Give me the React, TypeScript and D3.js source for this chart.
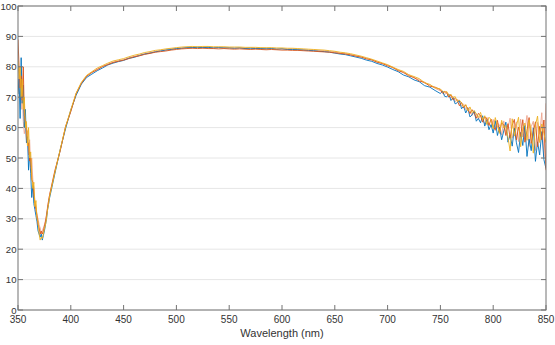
import React from 'react'
import * as d3 from 'd3'

// sampling grid (nm): 1 nm in the UV edge, 5 nm across the plateau, 2 nm in the noisy NIR tail
const wavelengths = [
  350, 351, 352, 353, 354, 355, 356, 357, 358, 359, 360, 361, 362, 363, 364, 365,
  366, 367, 368, 369, 370, 371, 372, 373, 374, 375, 376, 377, 378, 379, 380,
  385, 390, 395, 400, 405, 410, 415, 420, 425, 430, 435, 440, 445, 450, 455, 460, 465, 470, 475, 480,
  485, 490, 495, 500, 505, 510, 515, 520, 525, 530, 535, 540, 545, 550, 555, 560, 565, 570, 575, 580,
  585, 590, 595, 600, 605, 610, 615, 620, 625, 630, 635, 640, 645, 650, 655, 660, 665, 670, 675, 680,
  685, 690, 695, 700, 705, 710, 715, 720, 725, 730, 735, 740, 745,
  750, 752, 754, 756, 758, 760, 762, 764, 766, 768, 770, 772, 774, 776, 778, 780,
  782, 784, 786, 788, 790, 792, 794, 796, 798, 800, 802, 804, 806, 808, 810, 812,
  814, 816, 818, 820, 822, 824, 826, 828, 830, 832, 834, 836, 838, 840, 842, 844,
  846, 848, 850,
]

const blueValues = [
  71, 76, 63, 83, 68, 74, 60, 66, 55, 57, 46, 52, 45, 37, 41, 35,
  33, 31, 29, 26, 25, 24, 25, 23, 24.5, 26, 28, 30, 33, 35, 37,
  45.0, 52.8, 59.6, 65.8, 70.6, 74.3, 76.5, 77.6, 78.7, 79.6, 80.6, 81.2, 81.7, 82.1, 82.8, 83.1, 83.7, 84.2, 84.5, 84.9,
  85.2, 85.5, 85.7, 86.0, 86.1, 86.3, 86.3, 86.4, 86.3, 86.4, 86.2, 86.3, 86.2, 86.2, 86.1, 86.2, 86.0, 86.1, 86.0, 86.0,
  85.9, 86.0, 85.8, 85.9, 85.7, 85.7, 85.6, 85.5, 85.4, 85.3, 85.1, 85.0, 84.8, 84.5, 84.2, 84.0, 83.6, 83.2, 82.8, 82.2,
  81.8, 81.1, 80.6, 79.9, 79.1, 78.4, 77.3, 76.7, 75.7, 75.1, 73.8, 73.3, 72.2,
  71.2, 72.0, 70.3, 70.1, 71.0, 68.9, 69.8, 67.8, 68.2, 68.9, 66.2, 67.0, 64.8, 66.4, 63.5, 64.2,
  65.5, 62.1, 63.0, 61.6, 63.9, 60.5, 62.6, 59.3, 61.0, 58.2, 62.3, 57.4, 60.1, 56.0, 58.9, 61.8,
  55.2, 57.6, 53.9, 59.8, 55.0, 51.8, 58.4, 54.1, 60.7, 50.5, 56.2, 52.4, 59.9, 48.9, 55.3, 51.0,
  58.7, 49.5, 46.5,
]

const redValues = [
  89, 80, 73, 77, 69, 80, 64, 62, 60, 54, 55, 49, 50, 43, 42, 38,
  35, 33, 31, 28, 27, 25, 26, 25, 26, 27.5, 29, 31, 33.5, 36, 38,
  46.0, 52.4, 60.3, 65.3, 71.2, 74.6, 76.9, 78.2, 79.0, 80.1, 80.7, 81.4, 81.8, 82.2, 82.7, 83.3, 83.6, 84.1, 84.4, 84.8,
  85.0, 85.2, 85.5, 85.7, 85.9, 86.0, 86.1, 86.0, 86.1, 86.0, 86.0, 85.9, 86.0, 85.9, 85.8, 85.9, 85.8, 85.7, 85.8, 85.7,
  85.6, 85.7, 85.6, 85.5, 85.5, 85.4, 85.4, 85.3, 85.2, 85.1, 85.0, 84.9, 84.8, 84.6, 84.4, 84.2, 83.9, 83.5, 83.2, 82.6,
  82.3, 81.5, 81.1, 80.3, 79.8, 78.7, 78.2, 77.0, 76.5, 75.3, 74.9, 73.6, 73.3,
  72.5, 71.3, 71.9, 71.4, 70.0, 70.8, 69.1, 69.6, 68.9, 67.2, 68.3, 66.5, 67.4, 66.1, 64.6, 65.9,
  64.8, 63.1, 64.7, 63.9, 61.8, 63.6, 62.9, 60.7, 62.8, 60.2, 59.3, 62.4, 58.5, 61.6, 60.9, 57.4,
  61.3, 56.6, 60.8, 62.7, 55.9, 60.2, 57.1, 62.6, 55.2, 59.0, 63.3, 54.8, 58.6, 61.9, 53.7, 60.4,
  56.0, 62.5, 46.0,
]

const salmonValues = [
  76, 72, 70, 66, 74, 62, 58, 60, 56, 59, 51, 56, 47, 50, 43, 40,
  36, 34, 31, 30, 28, 27, 25, 26, 27, 28, 29.5, 31.5, 34, 36, 38,
  45.5, 52.6, 60.1, 65.4, 71.0, 74.4, 76.9, 78.0, 79.3, 80.0, 80.9, 81.5, 82.0, 82.3, 83.0, 83.4, 83.9, 84.3, 84.7, 85.0,
  85.4, 85.6, 85.9, 86.1, 86.2, 86.4, 86.3, 86.5, 86.4, 86.5, 86.3, 86.4, 86.3, 86.3, 86.2, 86.3, 86.1, 86.2, 86.1, 86.1,
  86.0, 86.1, 85.9, 86.0, 85.8, 85.9, 85.7, 85.7, 85.5, 85.5, 85.3, 85.3, 85.0, 84.9, 84.5, 84.4, 84.0, 83.7, 83.2, 82.8,
  82.2, 81.7, 81.0, 80.6, 79.6, 79.0, 78.0, 77.4, 76.3, 75.8, 74.6, 74.1, 72.9,
  72.1, 71.9, 70.8, 71.6, 70.9, 69.6, 70.3, 68.5, 69.4, 68.6, 67.0, 67.8, 65.9, 66.7, 65.6, 64.0,
  65.2, 64.6, 62.7, 64.1, 62.4, 61.2, 63.4, 61.1, 60.3, 62.7, 59.0, 61.5, 60.8, 57.6, 62.2, 58.4,
  60.0, 63.1, 56.5, 59.6, 61.9, 55.4, 62.8, 56.9, 59.1, 64.0, 53.8, 60.3, 62.1, 52.5, 61.7, 57.8,
  64.9, 50.4, 68.0,
]

const yellowValues = [
  82, 76, 80, 70, 76, 66, 70, 60, 62, 54, 60, 50, 52, 44, 40, 42,
  34, 36, 30, 29, 25, 23, 24, 23.5, 25, 26.5, 28, 30, 33, 35, 37.5,
  45.3, 52.9, 60.2, 65.9, 71.3, 74.9, 77.2, 78.4, 79.6, 80.4, 81.2, 81.9, 82.3, 82.7, 83.3, 83.8, 84.2, 84.7, 85.0, 85.4,
  85.6, 85.9, 86.1, 86.3, 86.5, 86.6, 86.7, 86.6, 86.7, 86.7, 86.6, 86.6, 86.6, 86.5, 86.5, 86.5, 86.4, 86.4, 86.4, 86.3,
  86.3, 86.3, 86.2, 86.2, 86.1, 86.1, 86.0, 85.9, 85.8, 85.7, 85.6, 85.5, 85.3, 85.1, 84.8, 84.6, 84.3, 83.9, 83.5, 83.0,
  82.5, 81.9, 81.3, 80.7, 79.9, 79.1, 78.5, 77.4, 76.8, 76.1, 74.8, 74.2, 73.1,
  72.7, 72.0, 71.6, 71.9, 70.6, 70.9, 69.8, 70.2, 68.6, 69.0, 68.2, 66.8, 67.6, 65.5, 66.8, 64.9,
  65.6, 64.5, 63.3, 65.0, 62.6, 63.9, 61.0, 63.4, 62.7, 59.6, 63.3, 60.6, 58.1, 62.4, 59.9, 60.7,
  56.8, 52.3, 62.9, 57.2, 60.6, 63.4, 53.7, 59.8, 61.5, 55.8, 62.5, 58.9, 51.6, 60.7, 63.8, 55.1,
  61.2, 58.0, 55.0,
]

const xTicks = [350, 400, 450, 500, 550, 600, 650, 700, 750, 800, 850]
const yTicks = [0, 10, 20, 30, 40, 50, 60, 70, 80, 90, 100]

// drawing order: back to front
const seriesList = [salmonValues, blueValues, redValues, yellowValues]
const seriesColors = ['#eda58f', '#0072bd', '#d95319', '#edb120']

const W = 555
const H = 345
const left = 18
const right = 546
const top = 6
const bottom = 310
const font = '"Liberation Sans", Arial, sans-serif'
const axisColor = '#737373'
const textColor = '#333333'

export default function App() {
  const x = d3.scaleLinear().domain([350, 850]).range([left, right])
  const y = d3.scaleLinear().domain([0, 100]).range([bottom, top])

  const line = d3
    .line<number>()
    .x((_, i) => x(wavelengths[i]))
    .y(d => y(d))

  return (
    <div style={{ position: 'fixed', left: 0, top: 0 }}>
      <svg width={W} height={H} style={{ display: 'block', background: '#fff' }}>
        {yTicks.map(t => (
          <line key={'g' + t} x1={left} x2={right} y1={y(t)} y2={y(t)} stroke="#e6e6e6" strokeWidth={1} />
        ))}

        <defs>
          <clipPath id="plot">
            <rect x={left} y={top} width={right - left} height={bottom - top} />
          </clipPath>
        </defs>
        <g clipPath="url(#plot)">
          {seriesList.map((vals, i) => (
            <path
              key={i}
              d={line(vals) || ''}
              fill="none"
              stroke={seriesColors[i]}
              strokeWidth={0.9}
              strokeLinejoin="round"
            />
          ))}
        </g>

        <rect x={left} y={top} width={right - left} height={bottom - top} fill="none" stroke={axisColor} strokeWidth={1} />

        {xTicks.map(t => (
          <g key={'x' + t}>
            <line x1={x(t)} x2={x(t)} y1={bottom} y2={bottom - 5} stroke={axisColor} />
            <line x1={x(t)} x2={x(t)} y1={top} y2={top + 5} stroke={axisColor} />
            <text x={x(t)} y={bottom + 13} textAnchor="middle" fontFamily={font} fontSize={10} fill={textColor}>
              {t}
            </text>
          </g>
        ))}
        {yTicks.map(t => (
          <g key={'y' + t}>
            <line x1={left} x2={left + 5} y1={y(t)} y2={y(t)} stroke={axisColor} />
            <line x1={right} x2={right - 5} y1={y(t)} y2={y(t)} stroke={axisColor} />
            <text x={left - 1.5} y={y(t) + 3.5} textAnchor="end" fontFamily={font} fontSize={9.6} fill={textColor}>
              {t}
            </text>
          </g>
        ))}

        <text x={(left + right) / 2} y={bottom + 27} textAnchor="middle" fontFamily={font} fontSize={11} fill={textColor}>
          Wavelength (nm)
        </text>
      </svg>
    </div>
  )
}
